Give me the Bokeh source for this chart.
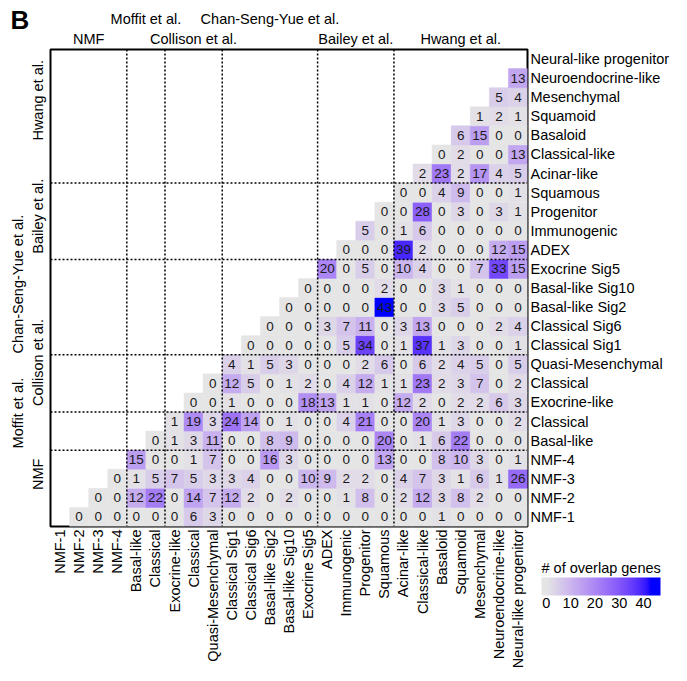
import math
from bokeh.plotting import figure
from bokeh.models import (ColumnDataSource, LinearColorMapper, ColorBar,
                          FixedTicker, Span, LinearAxis)
from bokeh.core.properties import value
from bokeh.embed import file_html
from bokeh.resources import INLINE

# ---------------- data ----------------
categories = ["NMF-1", "NMF-2", "NMF-3", "NMF-4",
              "Basal-like", "Classical",
              "Exocrine-like", "Classical", "Quasi-Mesenchymal",
              "Classical Sig1", "Classical Sig6", "Basal-like Sig2",
              "Basal-like Sig10", "Exocrine Sig5",
              "ADEX", "Immunogenic", "Progenitor", "Squamous",
              "Acinar-like", "Classical-like", "Basaloid", "Squamoid",
              "Mesenchymal", "Neuroendocrine-like", "Neural-like progenitor"]
groups = ["NMF", "Moffit et al.", "Collison et al.", "Chan-Seng-Yue et al.",
          "Bailey et al.", "Hwang et al."]
group_sizes = [4, 2, 3, 5, 4, 7]
colorbar_ticks = [0, 10, 20, 30, 40]

# overlap of row category j with column categories j+1 ... 24
row_nmf1 = [0, 0, 0, 0, 0, 0, 6, 3, 0, 0, 0, 0, 0, 0, 0, 0, 0, 0, 0, 1, 0, 0, 0, 0]
row_nmf2 = [0, 0, 12, 22, 0, 14, 7, 12, 2, 0, 2, 0, 0, 1, 8, 0, 2, 12, 3, 8, 2, 0, 0]
row_nmf3 = [0, 1, 5, 7, 5, 3, 3, 4, 0, 0, 10, 9, 2, 2, 0, 4, 7, 3, 1, 6, 1, 26]
row_nmf4 = [15, 0, 0, 1, 7, 0, 0, 16, 3, 0, 0, 0, 0, 13, 0, 0, 8, 10, 3, 0, 1]
row_moffitt_basal = [0, 1, 3, 11, 0, 0, 8, 9, 0, 0, 0, 0, 20, 0, 1, 6, 22, 0, 0, 0]
row_moffitt_classical = [1, 19, 3, 24, 14, 0, 1, 0, 0, 4, 21, 0, 0, 20, 1, 3, 0, 0, 2]
row_collison_exocrine = [0, 0, 1, 0, 0, 0, 18, 13, 1, 1, 0, 12, 2, 0, 2, 2, 6, 3]
row_collison_classical = [0, 12, 5, 0, 1, 2, 0, 4, 12, 1, 1, 23, 2, 3, 7, 0, 2]
row_collison_qm = [4, 1, 5, 3, 0, 0, 0, 2, 6, 0, 6, 2, 4, 5, 0, 5]
row_csy_classical1 = [0, 0, 0, 0, 0, 5, 34, 0, 1, 37, 1, 3, 0, 0, 1]
row_csy_classical6 = [0, 0, 0, 3, 7, 11, 0, 3, 13, 0, 0, 0, 2, 4]
row_csy_basal2 = [0, 0, 0, 0, 0, 43, 0, 0, 3, 5, 0, 0, 0]
row_csy_basal10 = [0, 0, 0, 0, 2, 0, 0, 3, 1, 0, 0, 0]
row_csy_exocrine5 = [20, 0, 5, 0, 10, 4, 0, 0, 7, 33, 15]
row_bailey_adex = [0, 0, 0, 39, 2, 0, 0, 0, 12, 15]
row_bailey_immuno = [5, 0, 1, 6, 0, 0, 0, 0, 0]
row_bailey_progenitor = [0, 0, 28, 0, 3, 0, 3, 1]
row_bailey_squamous = [0, 0, 4, 9, 0, 0, 1]
row_hwang_acinar = [2, 23, 2, 17, 4, 5]
row_hwang_classical = [0, 2, 0, 0, 13]
row_hwang_basaloid = [6, 15, 0, 0]
row_hwang_squamoid = [1, 2, 1]
row_hwang_mesenchymal = [5, 4]
row_hwang_neuroendo = [13]

rows = [row_nmf1, row_nmf2, row_nmf3, row_nmf4, row_moffitt_basal,
        row_moffitt_classical, row_collison_exocrine, row_collison_classical,
        row_collison_qm, row_csy_classical1, row_csy_classical6,
        row_csy_basal2, row_csy_basal10, row_csy_exocrine5, row_bailey_adex,
        row_bailey_immuno, row_bailey_progenitor, row_bailey_squamous,
        row_hwang_acinar, row_hwang_classical, row_hwang_basaloid,
        row_hwang_squamoid, row_hwang_mesenchymal, row_hwang_neuroendo]

xs, ys, vs = [], [], []
for j, r in enumerate(rows):
    for k, v in enumerate(r):
        xs.append(j + 1 + k)
        ys.append(j)
        vs.append(v)
source = ColumnDataSource(dict(x=xs, y=ys, v=vs, label=[str(v) for v in vs]))
vmax = max(vs)

# ---------------- colour ramp (Lab, grey90 -> blue) ----------------
def _lin(c):
    c = c / 255.0
    return c / 12.92 if c <= 0.04045 else ((c + 0.055) / 1.055) ** 2.4

def _delin(c):
    c = 12.92 * c if c <= 0.0031308 else 1.055 * c ** (1 / 2.4) - 0.055
    return max(0, min(255, round(c * 255)))

WHITE = (0.95047, 1.0, 1.08883)

def rgb2lab(rgb):
    r, g, b = (_lin(c) for c in rgb)
    X = 0.4124 * r + 0.3576 * g + 0.1805 * b
    Y = 0.2126 * r + 0.7152 * g + 0.0722 * b
    Z = 0.0193 * r + 0.1192 * g + 0.9505 * b
    def f(t):
        return t ** (1 / 3) if t > 0.008856 else 7.787 * t + 16 / 116
    fx, fy, fz = f(X / WHITE[0]), f(Y / WHITE[1]), f(Z / WHITE[2])
    return (116 * fy - 16, 500 * (fx - fy), 200 * (fy - fz))

def lab2hex(lab):
    L, a, b = lab
    fy = (L + 16) / 116
    fx = fy + a / 500
    fz = fy - b / 200
    def finv(t):
        return t ** 3 if t ** 3 > 0.008856 else (t - 16 / 116) / 7.787
    X, Y, Z = finv(fx) * WHITE[0], finv(fy) * WHITE[1], finv(fz) * WHITE[2]
    r = 3.2406 * X - 1.5372 * Y - 0.4986 * Z
    g = -0.9689 * X + 1.8758 * Y + 0.0415 * Z
    bb = 0.0557 * X - 0.2040 * Y + 1.0570 * Z
    r, g, bb = (max(0.0, min(1.0, c)) for c in (r, g, bb))
    return "#%02x%02x%02x" % (_delin(r), _delin(g), _delin(bb))

LOW = rgb2lab((229, 229, 229))
HIGH = rgb2lab((0, 0, 255))

def ramp(t):
    t = max(0.0, min(1.0, t))
    return lab2hex(tuple(LOW[i] + (HIGH[i] - LOW[i]) * t for i in range(3)))

N = 256
cell_palette = [ramp(i / (N - 1)) for i in range(N)]
mapper = LinearColorMapper(palette=cell_palette, low=0, high=vmax)

cb_low, cb_high = -2, 47
cb_palette = [ramp((cb_low + (cb_high - cb_low) * i / (N - 1)) / vmax) for i in range(N)]
cb_mapper = LinearColorMapper(palette=cb_palette, low=cb_low, high=cb_high)

# ---------------- figure ----------------
FONT = "Liberation Sans"
LBL = "14.5px"
n = len(categories)
frame = 477
ppu = frame / n  # pixels per data unit

p = figure(width=687, height=681, x_range=(-0.5, n - 0.5), y_range=(-0.5, n - 0.5),
           y_axis_location="right", output_backend="svg", toolbar_location=None,
           min_border_left=50, min_border_right=160, min_border_top=49,
           min_border_bottom=155)
p.xgrid.visible = False
p.ygrid.visible = False
p.outline_line_color = "black"
p.outline_line_width = 2
p.background_fill_color = "white"

p.rect(x="x", y="y", width=1, height=1, source=source,
       fill_color={"field": "v", "transform": mapper},
       line_color={"field": "v", "transform": mapper}, line_width=0.5)
p.text(x="x", y="y", text="label", source=source, text_align="center",
       text_baseline="middle", text_font=value(FONT), text_font_size="13.5px",
       text_color="#1a1a1a")

# group separators
bounds = []
acc = 0
for s in group_sizes[:-1]:
    acc += s
    bounds.append(acc - 0.5)
for b in bounds:
    p.add_layout(Span(location=b, dimension="height", line_color="black",
                      line_width=1.5, line_dash="2 2"))
    p.add_layout(Span(location=b, dimension="width", line_color="black",
                      line_width=1.5, line_dash="2 2"))


def style_axis(ax, standoff):
    ax.axis_line_color = None
    ax.major_tick_line_color = None
    ax.minor_tick_line_color = None
    ax.major_tick_out = 0
    ax.major_tick_in = 0
    ax.minor_tick_out = 0
    ax.minor_tick_in = 0
    ax.major_label_text_font_size = LBL
    ax.major_label_text_font = FONT
    ax.major_label_text_color = "black"
    ax.major_label_standoff = standoff


# category axes
ticks = list(range(n))
for ax in (p.xaxis[0], p.yaxis[0]):
    ax.ticker = FixedTicker(ticks=ticks)
    ax.major_label_overrides = {i: c for i, c in enumerate(categories)}
    style_axis(ax, 3)
p.xaxis.major_label_orientation = math.pi / 2

# group label axes: two staggered rows above, two staggered columns left
inner_row = [True, False, True, False, True, True]
left_shift_px = [14, 18, 21, 23, 5, 16]   # labels sit slightly above group centre
centers = []
start = 0
for s in group_sizes:
    centers.append(start + (s - 1) / 2)
    start += s

top_inner = {c: g for c, g, f in zip(centers, groups, inner_row) if f}
top_outer = {c: g for c, g, f in zip(centers, groups, inner_row) if not f}
left_pos = [c + sh / ppu for c, sh in zip(centers, left_shift_px)]
left_inner = {y: g for y, g, f in zip(left_pos, groups, inner_row) if f}
left_outer = {y: g for y, g, f in zip(left_pos, groups, inner_row) if not f}

for labels, standoff in ((top_inner, 3), (top_outer, 1)):
    ax = LinearAxis(ticker=FixedTicker(ticks=list(labels.keys())),
                    major_label_overrides=labels)
    style_axis(ax, standoff)
    p.add_layout(ax, "above")

for labels, standoff in ((left_inner, 4), (left_outer, 1)):
    ax = LinearAxis(ticker=FixedTicker(ticks=list(labels.keys())),
                    major_label_overrides=labels)
    style_axis(ax, standoff)
    ax.major_label_orientation = "parallel"
    p.add_layout(ax, "left")

# panel letter "B" (title of an invisible, label-less colour bar, placed top-left)
letter_mapper = LinearColorMapper(palette=["#ffffff"], low=0, high=1)
letter = ColorBar(color_mapper=letter_mapper, orientation="horizontal",
                  location=(-40, 491), width=1, height=1, scale_alpha=0,
                  title="B", title_text_font_size="26px",
                  title_text_font_style="bold", title_text_font=FONT,
                  title_text_color="black", title_standoff=0,
                  ticker=FixedTicker(ticks=[]), major_label_text_alpha=0,
                  major_tick_line_color=None, minor_tick_line_color=None,
                  bar_line_color=None, border_line_color=None,
                  background_fill_alpha=0, padding=0)
p.add_layout(letter)

cb = ColorBar(color_mapper=cb_mapper, orientation="horizontal",
              location=(491, -84), width=119, height=18,
              title="# of overlap genes", title_text_font_size=LBL,
              title_text_font_style="normal", title_text_font=FONT,
              title_text_color="black", title_standoff=3,
              major_label_text_font_size=LBL, major_label_text_font=FONT,
              major_label_text_color="black",
              ticker=FixedTicker(ticks=colorbar_ticks),
              major_tick_line_color=None, minor_tick_line_color=None,
              bar_line_color=None, border_line_color=None,
              background_fill_alpha=0, padding=0, label_standoff=2)
p.add_layout(cb)

open("out.html", "w").write(file_html(p, INLINE))
